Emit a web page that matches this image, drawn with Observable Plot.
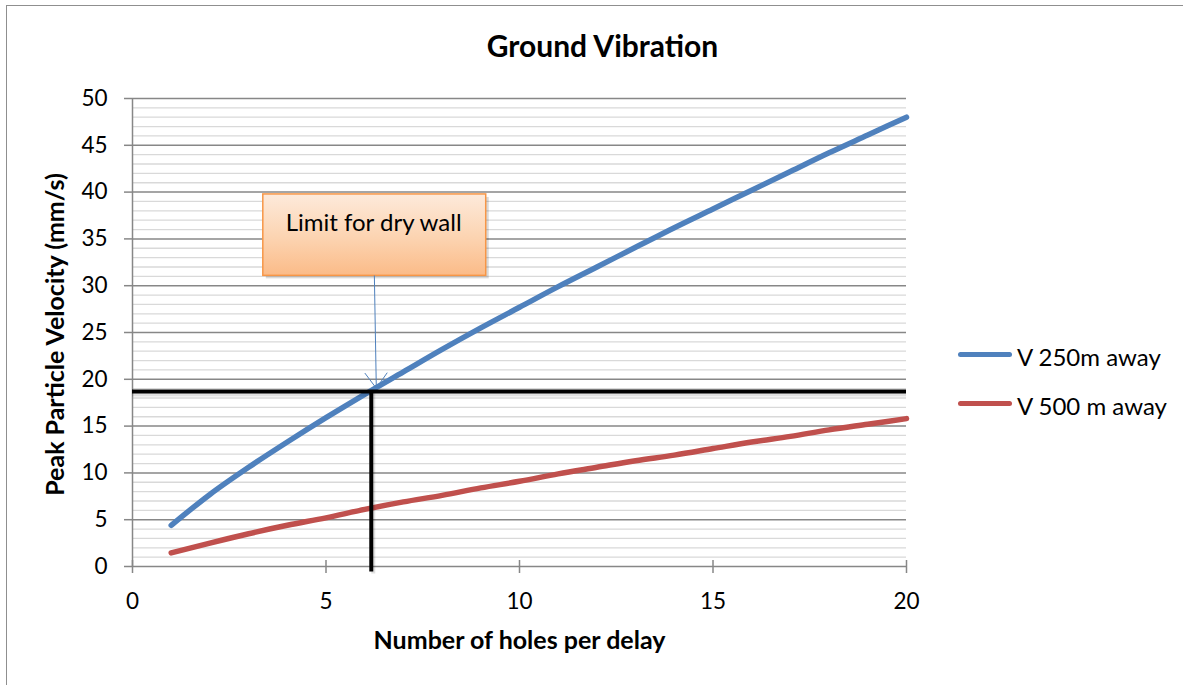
<!DOCTYPE html>
<html><head><meta charset="utf-8">
<script src="https://cdn.jsdelivr.net/npm/d3@7"></script>
<script src="https://cdn.jsdelivr.net/npm/@observablehq/plot@0.6"></script>
<style>
html,body{margin:0;padding:0;background:#fff;overflow:hidden;}
#wrap{position:relative;width:1183px;height:685px;font-family:Lato,"Open Sans",sans-serif;}
#frame{position:absolute;left:6px;top:5px;width:3000px;height:3000px;border-left:1.5px solid #8f8f8f;border-top:1.5px solid #8f8f8f;pointer-events:none;}
#chart{position:absolute;left:0;top:0;}
#legend{position:absolute;left:958px;top:329.5px;}
.item{display:flex;align-items:center;height:49px;}
.sw{width:54px;height:5px;border-radius:3px;margin-right:5px;}
.lab{font-size:24px;position:relative;top:2px;color:#000;white-space:nowrap;}
</style></head><body>
<div id="wrap"><div id="chart"></div><div id="frame"></div><div id="legend"></div></div>
<script>
// ---- data ----
const holes = [1,2,3,4,5,6,7,8,9,10,11,12,13,14,15,16,17,18,19,20];
const v250 = [4.4,7.7,10.6,13.3,15.9,18.4,20.8,23.2,25.5,27.7,29.9,32.0,34.1,36.2,38.2,40.2,42.2,44.2,46.1,48.0];
const v500 = [1.45,2.5,3.5,4.4,5.2,6.1,6.9,7.6,8.4,9.1,9.9,10.6,11.3,11.9,12.6,13.3,13.9,14.6,15.2,15.8];
const seriesNames = ["V 250m away", "V 500 m away"];
const seriesColors = ["#4F81BD", "#C0504D"];
const xTicks = [0,5,10,15,20];
const yTicks = [0,5,10,15,20,25,30,35,40,45,50];
const yMinor = [1,2,3,4,6,7,8,9,11,12,13,14,16,17,18,19,21,22,23,24,26,27,28,29,31,32,33,34,36,37,38,39,41,42,43,44,46,47,48,49];
const limitV = [18.7];           // horizontal limit line (mm/s)
const limitHoles = [6.17];       // vertical limit line (holes)
const limitBottom = [-0.6];
const calloutText = ["Limit for dry wall"];
const calloutBox = [{x1: 3.38, x2: 9.14, y1: 31.05, y2: 39.75, tx: 6.23, ty: 36.7}];
const calloutArrow = [{x1: 6.25, y1: 31.05, x2: 6.30, y2: 19.04}];
const titleText = ["Ground Vibration"];
const xLabel = ["Number of holes per delay"];
const yLabel = ["Peak Particle Velocity (mm/s)"];

const rows250 = holes.map((h, i) => ({h, v: v250[i]}));
const rows500 = holes.map((h, i) => ({h, v: v500[i]}));

const defs = () => {
  const d = d3.create("svg:defs");
  const g = d.append("linearGradient").attr("id", "boxGrad").attr("x1", 0).attr("y1", 0).attr("x2", 0).attr("y2", 1);
  g.append("stop").attr("offset", "0%").attr("stop-color", "#fdeadb");
  g.append("stop").attr("offset", "55%").attr("stop-color", "#fcd3b0");
  g.append("stop").attr("offset", "100%").attr("stop-color", "#fbbb88");
  return d.node();
};

const grid = "#878787";
const chart = Plot.plot({
  width: 1183, height: 685,
  marginLeft: 132, marginRight: 277, marginTop: 98, marginBottom: 119,
  x: {domain: [0, 20]},
  y: {domain: [0, 50]},
  style: {fontFamily: "Lato, sans-serif", color: "#000", background: "transparent", overflow: "visible"},
  marks: [
    defs,
    Plot.ruleY(yMinor, {stroke: "#d9d9d9", strokeWidth: 1.3}),
    Plot.ruleY(yTicks.filter(d => d > 0), {stroke: grid, strokeWidth: 1.5}),
    Plot.ruleX([0], {stroke: grid, strokeWidth: 1.5}),
    Plot.ruleY([0], {stroke: grid, strokeWidth: 1.5}),
    Plot.axisY({ticks: yTicks, tickSize: 8, tickPadding: 17, fontSize: 22.5, stroke: grid, strokeWidth: 1.5, fill: "#000", tickFormat: d => d}),
    Plot.axisX({ticks: xTicks, tickSize: 13, dy: -6, tickPadding: 20, fontSize: 22.5, stroke: grid, strokeWidth: 1.5, fill: "#000", tickFormat: d => d}),
    Plot.line(rows250, {x: "h", y: "v", stroke: seriesColors[0], strokeWidth: 5.5, curve: "monotone-x", strokeLinecap: "round"}),
    Plot.line(rows500, {x: "h", y: "v", stroke: seriesColors[1], strokeWidth: 5.5, curve: "monotone-x", strokeLinecap: "round"}),
    // shadows of limit lines
    Plot.ruleY(limitV, {x1: 0, x2: 20, stroke: "#000", strokeOpacity: 0.12, strokeWidth: 4, dy: 3}),
    Plot.ruleX(limitHoles, {y1: limitBottom[0], y2: limitV[0], stroke: "#000", strokeOpacity: 0.12, strokeWidth: 4, dx: 2, dy: 2}),
    Plot.ruleY(limitV, {x1: 0, x2: 20, stroke: "#000", strokeWidth: 4}),
    Plot.ruleX(limitHoles, {y1: limitBottom[0], y2: limitV[0], stroke: "#000", strokeWidth: 4}),
    // callout
    Plot.rect(calloutBox, {x1: "x1", x2: "x2", y1: "y1", y2: "y2", fill: "#000", fillOpacity: 0.15, dx: 3, dy: 3}),
    Plot.rect(calloutBox, {x1: "x1", x2: "x2", y1: "y1", y2: "y2", fill: "url(#boxGrad)", stroke: "#F79646", strokeWidth: 1.5}),
    Plot.text(calloutText, {x: calloutBox[0].tx, y: calloutBox[0].ty, text: d => d, fontSize: 24, fill: "#000"}),
    Plot.arrow(calloutArrow, {x1: "x1", y1: "y1", x2: "x2", y2: "y2", stroke: seriesColors[0], strokeWidth: 1, headLength: 28, headAngle: 72}),
    // titles
    Plot.text(titleText, {text: d => d, frameAnchor: "top", textAnchor: "middle", lineAnchor: "middle", dx: 83, dy: -51.5, fontSize: 30, fontWeight: "bold", fill: "#000"}),
    Plot.text(xLabel, {text: d => d, frameAnchor: "bottom", textAnchor: "middle", lineAnchor: "middle", dy: 74.4, fontSize: 25, fontWeight: "bold", fill: "#000"}),
    Plot.text(yLabel, {text: d => d, frameAnchor: "left", textAnchor: "middle", lineAnchor: "middle", dx: -77, dy: 2, rotate: -90, fontSize: 25, fontWeight: "bold", fill: "#000"})
  ]
});
document.getElementById("chart").appendChild(chart);

const legend = document.getElementById("legend");
seriesNames.forEach((name, i) => {
  const item = document.createElement("div");
  item.className = "item";
  const sw = document.createElement("span");
  sw.className = "sw";
  sw.style.background = seriesColors[i];
  const lab = document.createElement("span");
  lab.className = "lab";
  lab.textContent = name;
  item.appendChild(sw); item.appendChild(lab);
  legend.appendChild(item);
});
</script>
</body></html>
